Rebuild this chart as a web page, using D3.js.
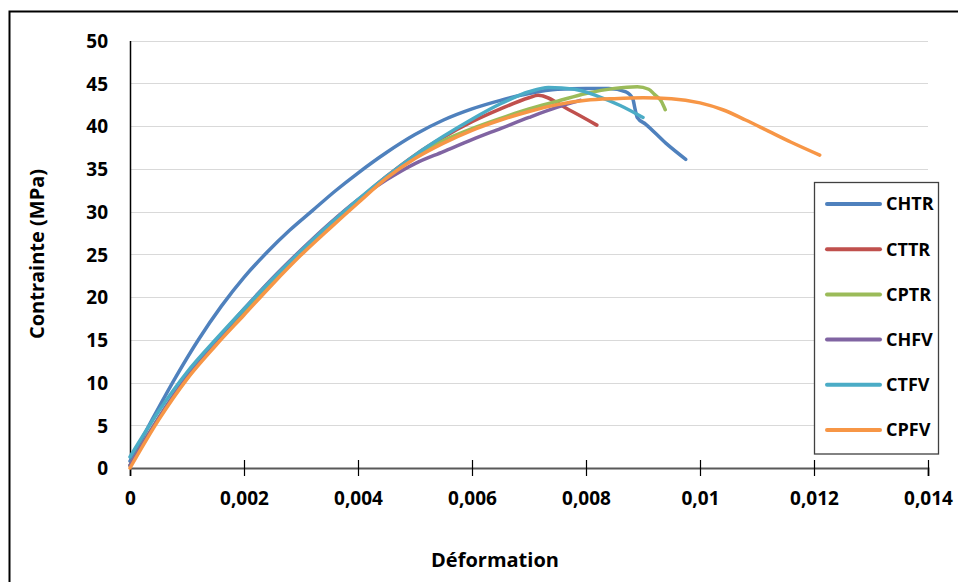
<!DOCTYPE html>
<html>
<head>
<meta charset="utf-8">
<script src="https://cdn.jsdelivr.net/npm/d3@7"></script>
<style>
body { margin: 0; background: #fff; }
text { font-family: "Open Sans", sans-serif; font-weight: bold; fill: #000; }
</style>
</head>
<body>
<div id="chart"></div>
<script>
//-------------------------------------
// data
//-------------------------------------
var seriesNames = ["CHTR", "CTTR", "CPTR", "CHFV", "CTFV", "CPFV"];
var seriesColors = ["#4f81bd", "#c0504d", "#9bbb59", "#8064a2", "#4bacc6", "#f79646"];

var xTicks = [0, 0.002, 0.004, 0.006, 0.008, 0.01, 0.012, 0.014];
var xTickLabels = ["0", "0,002", "0,004", "0,006", "0,008", "0,01", "0,012", "0,014"];
var yTicks = [0, 5, 10, 15, 20, 25, 30, 35, 40, 45, 50];

// [deformation, contrainte]
var chtr = [[0, 0.8], [0.0004, 5.8], [0.0008, 10.6], [0.0012, 15], [0.0016, 18.9], [0.002, 22.3],
	[0.0024, 25.2], [0.0028, 27.8], [0.0032, 30.1], [0.0036, 32.4], [0.004, 34.5],
	[0.0045, 36.9], [0.005, 39], [0.0055, 40.7], [0.006, 42], [0.0065, 43], [0.007, 43.8],
	[0.0075, 44.3], [0.008, 44.4], [0.0084, 44.4], [0.0087, 44], [0.00882, 43.2],
	[0.00886, 42], [0.0089, 41], [0.00905, 40.2], [0.0094, 38], [0.00975, 36.1]];
var cttr = [[0, 0.3], [0.0005, 5.8], [0.001, 10.6], [0.0015, 14.6], [0.002, 18.4], [0.0025, 22],
	[0.003, 25.3], [0.0035, 28.4], [0.004, 31.3], [0.0045, 34.1], [0.005, 36.6],
	[0.0055, 38.7], [0.006, 40.5], [0.0065, 42], [0.007, 43.3], [0.00716, 43.6],
	[0.0077, 41.9], [0.00819, 40.1]];
var cptr = [[0, 0.3], [0.0005, 5.8], [0.001, 10.5], [0.0015, 14.5], [0.002, 18.3], [0.0025, 21.9],
	[0.003, 25.2], [0.0035, 28.3], [0.004, 31.2], [0.0045, 34], [0.005, 36.4],
	[0.0055, 38.3], [0.006, 39.7], [0.0065, 40.9], [0.007, 42], [0.0075, 42.9],
	[0.008, 43.8], [0.0085, 44.4], [0.0089, 44.6], [0.0091, 44.3], [0.0092, 43.7],
	[0.00932, 42.9], [0.00939, 41.9]];
var chfv = [[0, 0.3], [0.0005, 5.8], [0.001, 10.7], [0.0015, 14.8], [0.002, 18.6], [0.0025, 22.2],
	[0.003, 25.5], [0.0035, 28.6], [0.004, 31.4], [0.0045, 33.7], [0.005, 35.6],
	[0.0055, 37], [0.006, 38.4], [0.0065, 39.7], [0.007, 41], [0.0075, 42.2], [0.0079, 43]];
var ctfv = [[0, 1.3], [0.0005, 6.6], [0.001, 11.2], [0.0015, 15], [0.002, 18.6], [0.0025, 22.1],
	[0.003, 25.4], [0.0035, 28.5], [0.004, 31.4], [0.0045, 34.1], [0.005, 36.6],
	[0.0055, 38.8], [0.006, 40.8], [0.0065, 42.6], [0.007, 44], [0.00734, 44.5],
	[0.0078, 44.3], [0.0082, 43.5], [0.0086, 42.4], [0.009, 41]];
var cpfv = [[0, 0], [0.0005, 5.6], [0.001, 10.4], [0.0015, 14.3], [0.002, 17.9], [0.0025, 21.5],
	[0.003, 24.9], [0.0035, 28], [0.004, 31], [0.0045, 33.9], [0.005, 36.2], [0.0055, 38],
	[0.006, 39.5], [0.0065, 40.7], [0.007, 41.7], [0.0075, 42.5], [0.008, 43], [0.0085, 43.2],
	[0.009, 43.3], [0.0095, 43.2], [0.01, 42.7], [0.0104, 41.9], [0.0108, 40.7],
	[0.0112, 39.4], [0.0116, 38.1], [0.0121, 36.6]];

var seriesData = [chtr, cttr, cptr, chfv, ctfv, cpfv];

//-------------------------------------
// field
//-------------------------------------
var width = 958;
var height = 582;

var svg = d3.select("#chart")
	.append("svg")
	.attr("width", width)
	.attr("height", height)
	.style("background", "#fff");

// outer frame (left and top edges visible)
svg.append("path")
	.attr("d", "M9.5," + height + "V11.5H" + width)
	.attr("fill", "none")
	.attr("stroke", "#000")
	.attr("stroke-width", 2);

var x = d3.scaleLinear().domain([0, 0.014]).range([130, 928]);
var y = d3.scaleLinear().domain([0, 50]).range([468, 40.5]);

// gridlines
svg.append("g")
	.selectAll("line")
	.data(yTicks.slice(1))
	.enter()
	.append("line")
	.attr("x1", x(0))
	.attr("x2", x(0.014))
	.attr("y1", function(d) { return Math.round(y(d)) + 0.5; })
	.attr("y2", function(d) { return Math.round(y(d)) + 0.5; })
	.attr("stroke", "#d9d9d9")
	.attr("stroke-width", 1.2);

// y axis
var yAxis = svg.append("g")
	.attr("transform", "translate(" + x(0) + ",0)")
	.call(d3.axisLeft(y).tickValues(yTicks).tickSize(0).tickPadding(22));
yAxis.select(".domain").attr("stroke", "#000").attr("stroke-width", 1.5);
yAxis.selectAll("text").style("font-size", "19px").attr("dy", "0.36em");

// x axis
var xAxis = svg.append("g")
	.attr("transform", "translate(0," + y(0) + ")")
	.call(d3.axisBottom(x)
		.tickValues(xTicks)
		.tickFormat(function(d, i) { return xTickLabels[i]; })
		.tickSize(8)
		.tickPadding(16));
xAxis.select(".domain").attr("stroke", "#595959").attr("stroke-width", 2);
xAxis.selectAll(".tick line")
	.attr("y1", -8)
	.attr("stroke", "#000")
	.attr("stroke-width", 1.2);
xAxis.selectAll("text").style("font-size", "19px");

// axis titles
svg.append("text")
	.attr("transform", "translate(37,254) rotate(-90)")
	.attr("text-anchor", "middle")
	.attr("dy", "0.35em")
	.style("font-size", "20px")
	.text("Contrainte (MPa)");

svg.append("text")
	.attr("x", 495)
	.attr("y", 560)
	.attr("text-anchor", "middle")
	.attr("dy", "0.35em")
	.style("font-size", "20px")
	.text("Déformation");

//-------------------------------------
// curves
//-------------------------------------
var line = d3.line()
	.x(function(d) { return x(d[0]); })
	.y(function(d) { return y(d[1]); })
	.curve(d3.curveMonotoneX);

svg.append("g")
	.selectAll("path")
	.data(seriesData)
	.enter()
	.append("path")
	.attr("d", line)
	.attr("fill", "none")
	.attr("stroke", function(d, i) { return seriesColors[i]; })
	.attr("stroke-width", 3.5)
	.attr("stroke-linecap", "round")
	.attr("stroke-linejoin", "round");

//-------------------------------------
// legend
//-------------------------------------
var legend = svg.append("g");
legend.append("rect")
	.attr("x", 814.5)
	.attr("y", 182.5)
	.attr("width", 124)
	.attr("height", 271.5)
	.attr("fill", "#fff")
	.attr("stroke", "#404040")
	.attr("stroke-width", 1.3);

var item = legend.selectAll(".item")
	.data(seriesNames)
	.enter()
	.append("g")
	.attr("class", "item")
	.attr("transform", function(d, i) { return "translate(0," + (204 + i * 45.2) + ")"; });

item.append("line")
	.attr("x1", 827)
	.attr("x2", 880)
	.attr("stroke", function(d, i) { return seriesColors[i]; })
	.attr("stroke-width", 4)
	.attr("stroke-linecap", "round");

item.append("text")
	.attr("x", 886)
	.attr("dy", "0.35em")
	.style("font-size", "18px")
	.text(function(d) { return d; });
</script>
</body>
</html>
